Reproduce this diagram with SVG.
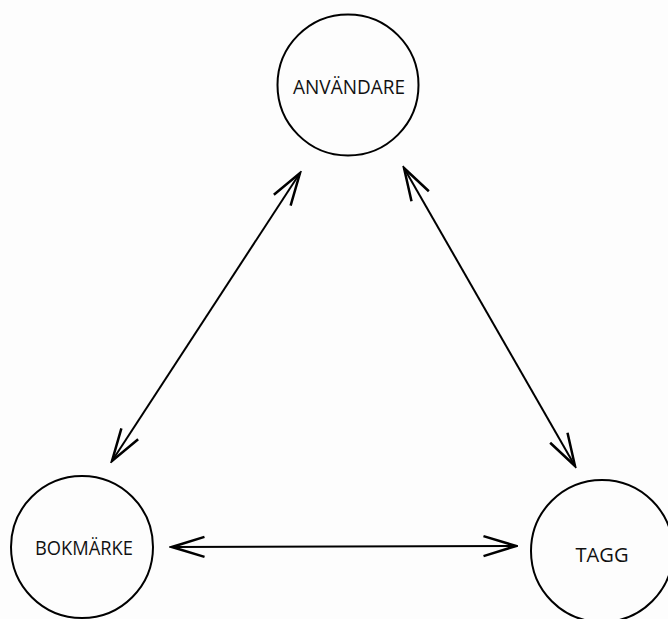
<svg xmlns="http://www.w3.org/2000/svg" width="668" height="619" viewBox="0 0 668 619">
<style>
.n{fill:none;stroke:#000;stroke-width:2}
.t{font-family:"Open Sans","Liberation Sans",Arial,sans-serif;font-size:19.5px;fill:#111;text-anchor:middle;lengthAdjust:spacingAndGlyphs}
.c{fill:none;stroke:#000;stroke-width:2}
</style>
<defs>
<marker id="a" markerUnits="userSpaceOnUse" markerWidth="40" markerHeight="40" viewBox="-30 -15 32 30" refX="0" refY="0" orient="auto-start-reverse">
<path d="M-26,-8 L0,0 L-26,8" fill="none" stroke="#000" stroke-width="2"/>
</marker>
</defs>
<rect width="668" height="619" fill="#fdfdfd"/>
<g id="connectors">
<line class="c" x1="112" y1="461" x2="300" y2="173" marker-start="url(#a)" marker-end="url(#a)"/>
<line class="c" x1="404" y1="168" x2="575" y2="466" marker-start="url(#a)" marker-end="url(#a)"/>
<line class="c" x1="172" y1="547" x2="516" y2="546" marker-start="url(#a)" marker-end="url(#a)"/>
</g>
<g id="anvandare">
<circle class="n" cx="348" cy="85" r="70.5"/>
<text class="t" x="349" y="94" textLength="112" lengthAdjust="spacingAndGlyphs">ANVÄNDARE</text>
</g>
<g id="bokmarke">
<circle class="n" cx="82" cy="547" r="71"/>
<text class="t" x="84" y="555" textLength="98" lengthAdjust="spacingAndGlyphs">BOKMÄRKE</text>
</g>
<g id="tagg">
<circle class="n" cx="602" cy="551" r="71"/>
<text class="t" x="602" y="562" textLength="53" lengthAdjust="spacingAndGlyphs">TAGG</text>
</g>
</svg>
